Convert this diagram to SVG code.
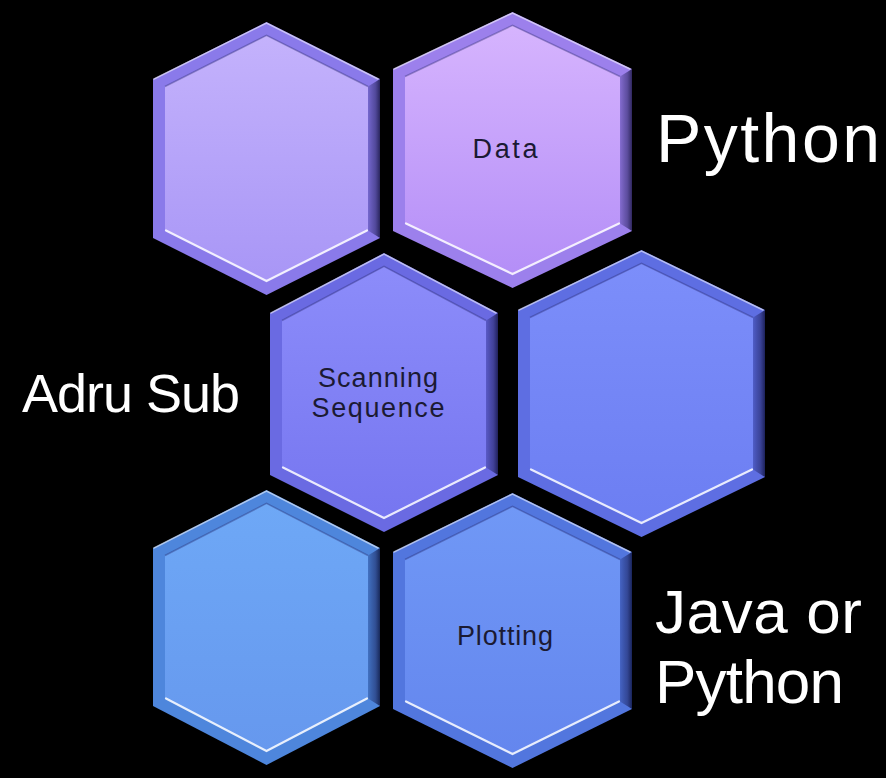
<svg xmlns="http://www.w3.org/2000/svg" width="886" height="778" viewBox="0 0 886 778">
<defs>
<style>
.big{font-family:"Liberation Sans",Arial,sans-serif;fill:#ffffff;}
.lbl{font-family:"Liberation Sans",Arial,sans-serif;font-size:27px;fill:#1b1a33;text-anchor:middle;}
.hl{fill:none;stroke:#ffffff;stroke-width:2.2;stroke-opacity:0.85;stroke-linecap:round;}
.hl2{fill:none;stroke:#ffffff;stroke-width:1.5;stroke-opacity:0.55;stroke-linecap:round;}
.sh{fill:none;stroke:#202060;stroke-width:1.5;stroke-opacity:0.35;}
.band{fill:url(#dark);}
</style>
<linearGradient id="dark" x1="0" y1="0" x2="1" y2="0">
<stop offset="0" stop-color="#000030" stop-opacity="0.15"/>
<stop offset="0.6" stop-color="#101040" stop-opacity="0.45"/>
<stop offset="1" stop-color="#000020" stop-opacity="0.7"/>
</linearGradient>
<linearGradient id="f1" x1="0" y1="0" x2="0" y2="1"><stop offset="0" stop-color="#c4b2fc"/><stop offset="1" stop-color="#a896f6"/></linearGradient>
<linearGradient id="f2" x1="0" y1="0" x2="0" y2="1"><stop offset="0" stop-color="#d6b4fe"/><stop offset="1" stop-color="#b48ef7"/></linearGradient>
<linearGradient id="f3" x1="0" y1="0" x2="0" y2="1"><stop offset="0" stop-color="#8c8cfa"/><stop offset="1" stop-color="#7676f0"/></linearGradient>
<linearGradient id="f4" x1="0" y1="0" x2="0" y2="1"><stop offset="0" stop-color="#7c8efa"/><stop offset="1" stop-color="#6c7ef2"/></linearGradient>
<linearGradient id="f5" x1="0" y1="0" x2="0" y2="1"><stop offset="0" stop-color="#6ea8f6"/><stop offset="1" stop-color="#6698ee"/></linearGradient>
<linearGradient id="f6" x1="0" y1="0" x2="0" y2="1"><stop offset="0" stop-color="#7098f6"/><stop offset="1" stop-color="#6486ee"/></linearGradient>
</defs>
<rect width="886" height="778" fill="#000000"/>

<g id="hex-top-left">
<polygon points="266.5,22 380,79 380,238 266.5,295 153,238 153,79" fill="#8a7aea"/>
<polygon class="band" points="380,79 380,238 368,230.5 368,86.5"/>
<polygon points="266.5,35.4 368,86.5 368,230.5 266.5,281.6 165,230.5 165,86.5" fill="url(#f1)"/>
<polyline class="sh" points="165,86.5 266.5,35.4 368,86.5"/>
<polyline class="hl2" points="154,79 266.5,23 378,79"/>
<polyline class="hl" points="166,230.5 266.5,281 367,230.5"/>
</g>

<g id="hex-data">
<polygon points="512.5,12 632,69 632,231 512.5,288 393,231 393,69" fill="#9c80ec"/>
<polygon class="band" points="632,69 632,231 620,223.5 620,76.5"/>
<polygon points="512.5,25.4 620,76.5 620,223.5 512.5,274.6 405,223.5 405,76.5" fill="url(#f2)"/>
<polyline class="sh" points="405,76.5 512.5,25.4 620,76.5"/>
<polyline class="hl2" points="394,69 512.5,13 630,69"/>
<polyline class="hl" points="406,223.5 512.5,274 619,223.5"/>
<text class="lbl" x="505" y="158" textLength="65">Data</text>
</g>

<g id="hex-scanning">
<polygon points="384,253 498,313 498,475 384,532 270,475 270,313" fill="#6a6ae2"/>
<polygon class="band" points="498,313 498,475 486,467.5 486,320.5"/>
<polygon points="384,266.4 486,320.5 486,467.5 384,518.6 282,467.5 282,320.5" fill="url(#f3)"/>
<polyline class="sh" points="282,320.5 384,266.4 486,320.5"/>
<polyline class="hl2" points="271,313 384,254 496,313"/>
<polyline class="hl" points="283,467.5 384,518 485,467.5"/>
<text class="lbl" x="378" y="387" textLength="120">Scanning</text>
<text class="lbl" x="378" y="417" textLength="133">Sequence</text>
</g>

<g id="hex-middle-right">
<polygon points="641.5,250 765,310 765,477 641.5,537 518,477 518,310" fill="#5e6ee2"/>
<polygon class="band" points="765,310 765,477 753,469.5 753,317.5"/>
<polygon points="641.5,263.4 753,317.5 753,469.5 641.5,523.6 530,469.5 530,317.5" fill="url(#f4)"/>
<polyline class="sh" points="530,317.5 641.5,263.4 753,317.5"/>
<polyline class="hl2" points="519,310 641.5,251 763,310"/>
<polyline class="hl" points="531,469.5 641.5,523 752,469.5"/>
</g>

<g id="hex-bottom-left">
<polygon points="266.5,490 380,548 380,706 266.5,765 153,706 153,548" fill="#4e86dc"/>
<polygon class="band" points="380,548 380,706 368,698.5 368,555.5"/>
<polygon points="266.5,503.4 368,555.5 368,698.5 266.5,751.6 165,698.5 165,555.5" fill="url(#f5)"/>
<polyline class="sh" points="165,555.5 266.5,503.4 368,555.5"/>
<polyline class="hl2" points="154,548 266.5,491 378,548"/>
<polyline class="hl" points="166,698.5 266.5,751 367,698.5"/>
</g>

<g id="hex-plotting">
<polygon points="512.5,493 632,552 632,709 512.5,768 393,709 393,552" fill="#5276de"/>
<polygon class="band" points="632,552 632,709 620,701.5 620,559.5"/>
<polygon points="512.5,506.4 620,559.5 620,701.5 512.5,754.6 405,701.5 405,559.5" fill="url(#f6)"/>
<polyline class="sh" points="405,559.5 512.5,506.4 620,559.5"/>
<polyline class="hl2" points="394,552 512.5,494 630,552"/>
<polyline class="hl" points="406,701.5 512.5,754 619,701.5"/>
<text class="lbl" x="505" y="645" textLength="96">Plotting</text>
</g>

<g id="labels">
<text class="big" x="656" y="162" font-size="68" textLength="224">Python</text>
<text class="big" x="22" y="412" font-size="54" textLength="218">Adru Sub</text>
<text class="big" x="655" y="633" font-size="62" textLength="207">Java or</text>
<text class="big" x="655" y="703" font-size="62" textLength="189">Python</text>
</g>
</svg>
